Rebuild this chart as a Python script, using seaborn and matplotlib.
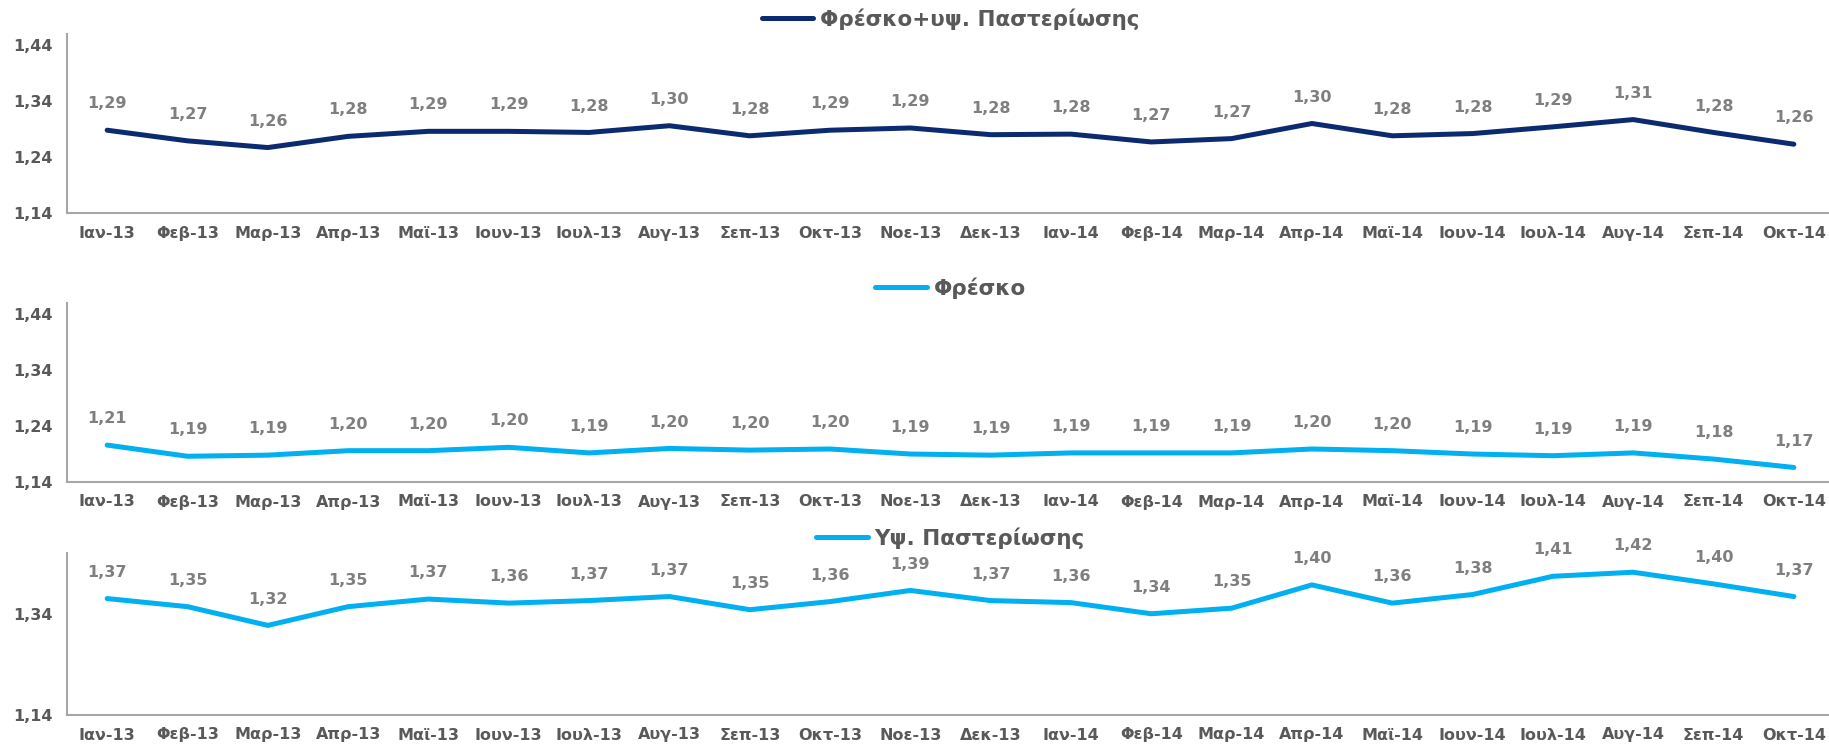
import matplotlib
matplotlib.use("Agg")
import matplotlib.pyplot as plt
import pandas as pd
import seaborn as sns

# Μήνες (άξονας x)
months = ["Ιαν-13", "Φεβ-13", "Μαρ-13", "Απρ-13", "Μαϊ-13", "Ιουν-13", "Ιουλ-13",
          "Αυγ-13", "Σεπ-13", "Οκτ-13", "Νοε-13", "Δεκ-13", "Ιαν-14", "Φεβ-14",
          "Μαρ-14", "Απρ-14", "Μαϊ-14", "Ιουν-14", "Ιουλ-14", "Αυγ-14", "Σεπ-14",
          "Οκτ-14"]

# Τιμές ανά σειρά (εκτίμηση από το γράφημα)
fresko_pasteur = [1.288, 1.269, 1.257, 1.277, 1.286, 1.286, 1.284, 1.296, 1.278, 1.288,
                  1.292, 1.280, 1.281, 1.267, 1.273, 1.300, 1.278, 1.282, 1.294, 1.307,
                  1.284, 1.263]
fresko = [1.206, 1.186, 1.188, 1.196, 1.196, 1.202, 1.192, 1.200, 1.197, 1.199,
          1.190, 1.188, 1.192, 1.192, 1.192, 1.199, 1.196, 1.190, 1.187, 1.192,
          1.181, 1.166]
pasteur = [1.370, 1.354, 1.317, 1.354, 1.369, 1.361, 1.366, 1.374, 1.348, 1.364,
           1.386, 1.366, 1.362, 1.340, 1.351, 1.397, 1.361, 1.378, 1.414, 1.422,
           1.399, 1.374]

series_names = ["Φρέσκο+υψ. Παστερίωσης", "Φρέσκο", "Υψ. Παστερίωσης"]
series_values = [fresko_pasteur, fresko, pasteur]
series_colors = ["#0b2a6f", "#00b0f0", "#00b0f0"]
yticks_list = [[1.14, 1.24, 1.34, 1.44], [1.14, 1.24, 1.34, 1.44], [1.14, 1.34]]

W, H = 1829, 744
# [top, bottom] των αξόνων σε pixels
panel_px = [(34, 213), (303, 482), (553, 715)]
left_px, right_px = 67, 1834

sns.set_style("white")
plt.rcParams["font.family"] = ["DejaVu Sans"]

fig = plt.figure(figsize=(W / 100, H / 100), dpi=100)

tick_color = "#595959"
label_color = "#7f7f7f"
spine_color = "#a6a6a6"

for name, vals, col, yt, (top, bot) in zip(series_names, series_values,
                                            series_colors, yticks_list, panel_px):
    ax = fig.add_axes([left_px / W, 1 - bot / H, (right_px - left_px) / W, (bot - top) / H])
    df = pd.DataFrame({"month": months, "value": vals})
    sns.lineplot(data=df, x="month", y="value", ax=ax, color=col, linewidth=3.6,
                 sort=False, label=name, solid_capstyle="round", solid_joinstyle="round")
    ax.set_xlim(-0.5, len(months) - 0.5)
    ax.set_ylim(1.14, 1.46)
    ax.set_yticks(yt)
    ax.set_yticklabels([f"{v:.2f}".replace(".", ",") for v in yt])
    ax.set_xlabel("")
    ax.set_ylabel("")
    ax.tick_params(axis="both", length=0, labelsize=11.5, labelcolor=tick_color)
    ax.tick_params(axis="x", pad=9)
    ax.tick_params(axis="y", pad=10)
    for lab in ax.get_xticklabels() + ax.get_yticklabels():
        lab.set_fontweight("bold")
    for s in ["top", "right"]:
        ax.spines[s].set_visible(False)
    for s in ["left", "bottom"]:
        ax.spines[s].set_color(spine_color)
        ax.spines[s].set_linewidth(1.5)

    for i, v in enumerate(vals):
        ax.annotate(f"{v:.2f}".replace(".", ","), (i, v), xytext=(0, 19),
                    textcoords="offset points", ha="center", va="center",
                    fontsize=11.5, fontweight="bold", color=label_color)

    leg = ax.legend(loc="center", bbox_to_anchor=(0.5, 1 + 15 / (bot - top)),
                    frameon=False, handlelength=2.4, handletextpad=0.3,
                    prop={"size": 15.5, "weight": "bold"})
    for t in leg.get_texts():
        t.set_color(tick_color)

fig.savefig("out.png", dpi=100)
